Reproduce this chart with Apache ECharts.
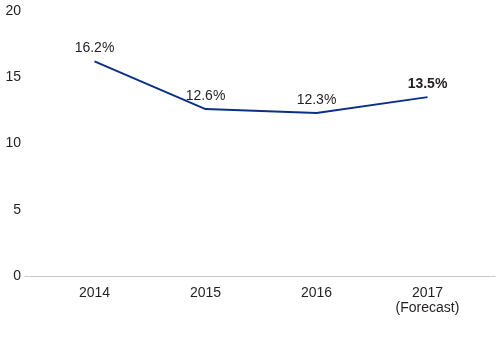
<!DOCTYPE html>
<html>
<head>
    <meta charset="utf-8">
    <title>chart</title>
    <style>
        html, body { margin: 0; padding: 0; background: #fff; }
    </style>
</head>
<body>
    <div id="main" style="width:500px;height:351px"></div>
    <script src="https://cdn.jsdelivr.net/npm/echarts@6/dist/echarts.min.js"></script>
    <script type="text/javascript">

        const YEARS = ['2014', '2015', '2016', '2017\n(Forecast)'];
        const RATES = [16.2, 12.6, 12.3, 13.5];
        const BOLD_LAST = true;

        const FONT = '"Liberation Sans Narrow", "Liberation Sans", Arial, sans-serif';
        const TEXT = '#231f20';

        let myChart = echarts.init(document.getElementById('main'));

        let points = RATES.map(function (v, i) {
            let p = { value: v };
            if (BOLD_LAST && i === RATES.length - 1) {
                p.label = { fontWeight: 'bold' };
            }
            return p;
        });

        var option = {
            animation: false,
            textStyle: { fontFamily: FONT },
            grid: [
                // frame: y labels + full-width baseline
                { left: 25, right: 5, top: 11, bottom: 75 },
                // data area
                { left: 39, right: 17, top: 11, bottom: 75 }
            ],
            xAxis: [
                {
                    gridIndex: 0,
                    type: 'category',
                    data: [''],
                    axisLine: { show: true, lineStyle: { color: '#c8c8c8', width: 1 } },
                    axisTick: { show: false },
                    axisLabel: { show: false }
                },
                {
                    gridIndex: 1,
                    type: 'category',
                    data: YEARS,
                    axisLine: { show: false },
                    axisTick: { show: false },
                    axisLabel: {
                        color: TEXT,
                        fontSize: 14,
                        fontFamily: FONT,
                        margin: 10,
                        lineHeight: 15
                    }
                }
            ],
            yAxis: [
                {
                    gridIndex: 0,
                    type: 'value',
                    min: 0,
                    max: 20,
                    interval: 5,
                    axisLine: { show: false },
                    axisTick: { show: false },
                    splitLine: { show: false },
                    axisLabel: {
                        color: TEXT,
                        fontSize: 14,
                        fontFamily: FONT,
                        margin: 4
                    }
                },
                {
                    gridIndex: 1,
                    type: 'value',
                    min: 0,
                    max: 20,
                    show: false
                }
            ],
            series: [
                {
                    type: 'line',
                    xAxisIndex: 1,
                    yAxisIndex: 1,
                    data: points,
                    symbol: 'circle',
                    symbolSize: 0,
                    showSymbol: true,
                    lineStyle: { color: '#0b3184', width: 2 },
                    itemStyle: { color: '#0b3184' },
                    label: {
                        show: true,
                        position: 'top',
                        distance: 6,
                        color: TEXT,
                        fontSize: 14,
                        fontFamily: FONT,
                        formatter: function (p) { return p.value.toFixed(1) + '%'; }
                    }
                }
            ]
        };
        myChart.setOption(option);

    </script>
</body>
</html>
